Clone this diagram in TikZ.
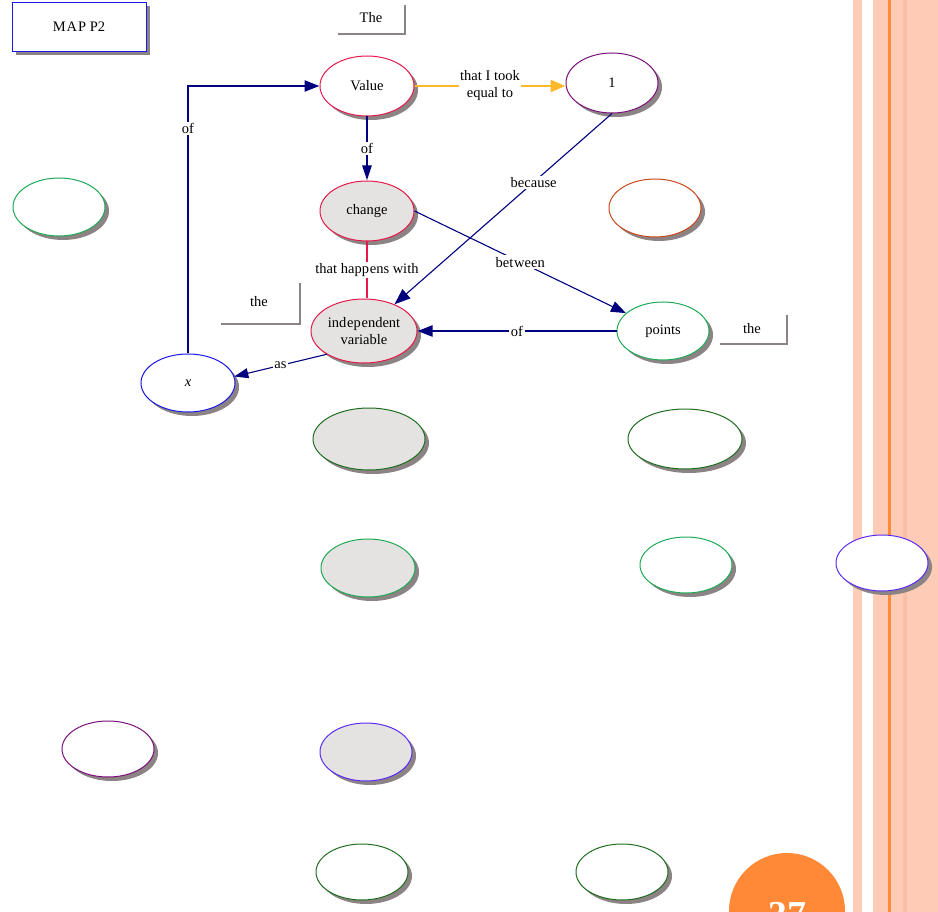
\documentclass[tikz,border=0pt]{standalone}
\usepackage{fontspec}
\setmainfont{Liberation Serif}
\usetikzlibrary{shapes.geometric,shadows,arrows.meta}

\definecolor{navy}{HTML}{00007F}
\definecolor{crimson}{HTML}{E6194B}
\definecolor{amber}{HTML}{FDB92C}
\definecolor{plum}{HTML}{7B0F7B}
\definecolor{leaf}{HTML}{1DAA55}
\definecolor{forest}{HTML}{1E6E1E}
\definecolor{rust}{HTML}{C9481A}
\definecolor{royal}{HTML}{1A1AE6}
\definecolor{violet}{HTML}{5B2BF5}
\definecolor{pale}{HTML}{E4E3E2}
\definecolor{shade}{HTML}{8C8484}
\definecolor{peach}{HTML}{FDCBB6}
\definecolor{peachdark}{HTML}{FBBFA5}
\definecolor{tangerine}{HTML}{FF8A3A}

\tikzset{
  txt/.style={font=\fontsize{14.5}{17}\selectfont},
  concept/.style={ellipse, line width=1pt, inner sep=0pt, align=center, txt,
    drop shadow={shadow xshift=4pt, shadow yshift=-4pt, fill=shade, opacity=1}},
  lab/.style={fill=white, inner sep=1.5pt, align=center, txt},
  tip/.style={-{Triangle[length=15pt,width=11pt]}},
  heavy/.style={draw=navy, line width=2.3pt},
  light/.style={draw=navy, line width=1.1pt},
  corner/.style={draw=shade, line width=2.8pt},
}

\begin{document}
\begin{tikzpicture}[x=1pt,y=-1pt]
\useasboundingbox (0,0) rectangle (938,912);
\clip (0,0) rectangle (938,912);

% side stripes
\fill[peach] (853,0) rectangle (862,912);
\fill[peach] (873,0) rectangle (938,912);
\fill[peachdark] (903,0) rectangle (907,912);
\fill[tangerine] (888,0) rectangle (891,912);

% page number disc
\fill[tangerine!95!orange] (787,911) circle (58);
\node[anchor=base, text=white, font=\fontsize{38}{40}\bfseries\selectfont] (pagenum) at (787,927) {37};

% title box
\node[draw=royal, line width=1pt, fill=white, minimum width=134pt, minimum height=49pt,
      txt, drop shadow={shadow xshift=4pt, shadow yshift=-4pt, fill=shade, opacity=1}]
      (title) at (79,27) {M\kern1ptA\kern1ptP P2};

% corner-bracket words
\node[txt] (theA) at (371,18) {The};
\draw[corner] (338,34) -| (405,5);
\node[txt] (theB) at (259,302) {the};
\draw[corner] (221,324) -| (300,283);
\node[txt] (theC) at (752,329) {the};
\draw[corner] (720,344) -| (787,315);

% concepts
\node[concept, draw=crimson, fill=white, minimum width=94pt, minimum height=60pt] (val) at (367,86) {Value};
\node[concept, draw=plum, fill=white, minimum width=92pt, minimum height=60pt] (one) at (612,83) {1};
\node[concept, draw=leaf, fill=white, minimum width=92pt, minimum height=58pt] (g1) at (59,207) {};
\node[concept, draw=crimson, fill=pale, minimum width=94pt, minimum height=60pt] (chg) at (367,211) {change};
\node[concept, draw=rust, fill=white, minimum width=92pt, minimum height=58pt] (r1) at (655,208) {};
\node[concept, draw=crimson, fill=pale, minimum width=106pt, minimum height=64pt] (ind) at (364,331) {ind\kern0.8ptep\kern0.8ptendent\\variable};
\node[concept, draw=leaf, fill=white, minimum width=92pt, minimum height=58pt] (pts) at (663,331) {points};
\node[concept, draw=royal, fill=white, minimum width=94pt, minimum height=58pt] (xn) at (188,383) {\textit{x}};
\node[concept, draw=forest, fill=pale, minimum width=112pt, minimum height=62pt] (e1) at (369,439) {};
\node[concept, draw=forest, fill=white, minimum width=114pt, minimum height=60pt] (e2) at (685,439) {};
\node[concept, draw=leaf, fill=pale, minimum width=94pt, minimum height=58pt] (e3) at (368,568) {};
\node[concept, draw=leaf, fill=white, minimum width=92pt, minimum height=56pt] (e4) at (686,565) {};
\node[concept, draw=violet, fill=white, minimum width=92pt, minimum height=56pt] (e5) at (882,563) {};
\node[concept, draw=plum, fill=white, minimum width=92pt, minimum height=56pt] (e6) at (108,749) {};
\node[concept, draw=violet, fill=pale, minimum width=92pt, minimum height=58pt] (e7) at (366,752) {};
\node[concept, draw=forest, fill=white, minimum width=92pt, minimum height=56pt] (e8) at (362,872) {};
\node[concept, draw=forest, fill=white, minimum width=92pt, minimum height=56pt] (e9) at (622,872) {};

% links
\draw[heavy, tip] (xn.north) |- node[lab, pos=0.42] {of} (val.west);
\draw[heavy, -{Triangle[length=15pt,width=9pt]}] (val.south) -- node[lab] {of} (chg.north);
\draw[draw=amber, line width=2.8pt, -{Triangle[length=15pt,width=12pt]}]
  (val.east) -- node[lab] {that I took\\equal to} (one.west |- val.east);
\draw[light, -{Triangle[length=16pt,width=12pt]}] (one.south) -- node[lab, pos=0.36] {because} (ind);
\draw[light, -{Triangle[length=15pt,width=11pt]}] (chg.east) -- node[lab, pos=0.5] {bet\kern0.8ptween} (pts);
\draw[draw=crimson, line width=2.8pt] (chg.south) -- node[lab] {that happ\kern0.8ptens with} (chg.south |- ind.north);
\draw[heavy, tip] (pts.west) -- node[lab] {of} (ind.east);
\draw[light, -{Triangle[length=14pt,width=10pt]}] (ind.212) -- node[lab] {as} (xn.8);
\end{tikzpicture}
\end{document}
